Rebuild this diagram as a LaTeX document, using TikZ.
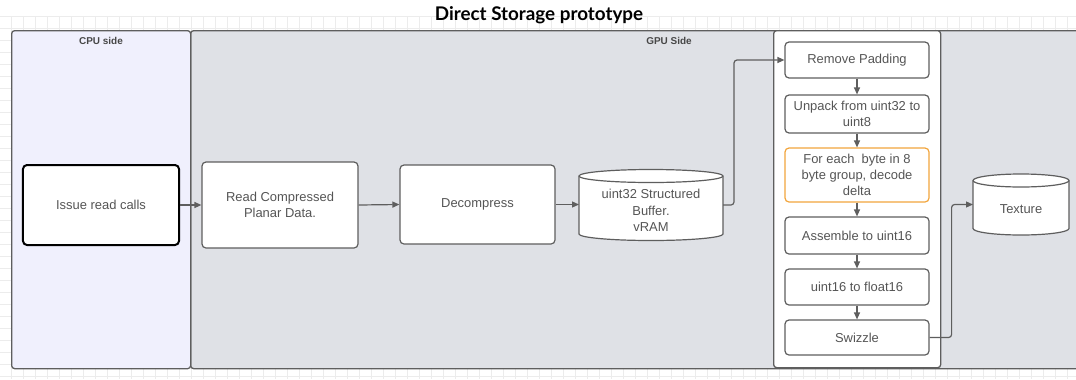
\documentclass[tikz,border=0pt]{standalone}
\usepackage{fontspec}
\setmainfont{Liberation Sans}
\newfontfamily\titlefont{Lato}
\usetikzlibrary{arrows.meta}
\definecolor{txt}{HTML}{555555}
\definecolor{edge}{HTML}{5E5E5E}
\definecolor{cpufill}{HTML}{F0F0FD}
\definecolor{gpufill}{HTML}{DFE1E6}
\definecolor{gridc}{HTML}{ECECEC}
\definecolor{orangeedge}{HTML}{F2A53C}
\begin{document}
\begin{tikzpicture}[x=1bp,y=-1bp,
  box/.style={draw=edge, line width=1.2bp, rounded corners=4bp, fill=white, text=txt,
    font=\fontsize{13}{16.4}\selectfont, align=center, inner sep=0pt},
  panel/.style={draw=edge, line width=1.3bp, rounded corners=3bp, inner sep=0pt, anchor=north west},
  plabel/.style={text=black!72, font=\bfseries\fontsize{10}{12}\selectfont, inner sep=0pt},
  cyltext/.style={text=txt, font=\fontsize{13}{16.4}\selectfont, align=center, inner sep=0pt},
  cylbox/.style={inner sep=0pt, outer sep=0pt},
  cyl/.style={draw=edge, line width=1.2bp, fill=white},
  arr/.style={draw=edge, line width=1.2bp, -{Triangle[length=7bp,width=6bp]}},
  gridline/.style={draw=gridc, line width=0.6bp}
]
\useasboundingbox (0,0) rectangle (1076,379);
% background grid
\foreach \i in {0,...,89} \draw[gridline] ({\i*12+11},16) -- ({\i*12+11},379);
\foreach \j in {0,...,30} \draw[gridline] (0,{16+\j*12}) -- (1076,{16+\j*12});
% title
\node[font=\titlefont\bfseries\fontsize{18.9}{20}\selectfont, inner sep=0pt] (title) at (539,15) {Direct Storage prototype};
% panels
\node[panel, fill=gpufill, minimum width=900bp, minimum height=338bp] (gpu) at (190,30) {};
\node[panel, fill=cpufill, minimum width=179bp, minimum height=338bp] (cpu) at (11,30) {};
\node[panel, fill=white, minimum width=167bp, minimum height=337bp] (col) at (773,30) {};
\node[plabel] (cpul) at (101,41) {CPU side};
\node[plabel] (gpul) at (669,41) {GPU Side};
% main row
\node[box, draw=black, line width=2bp, minimum width=156bp, minimum height=80bp] (issue) at (101,205) {Issue read calls};
\node[box, minimum width=156bp, minimum height=86bp] (readc) at (280,205) {Read Compressed\\Planar Data.};
\node[box, minimum width=155bp, minimum height=79bp] (decomp) at (477.5,204.5) {Decompress};
% buffer cylinder
\node[cylbox, minimum width=144bp, minimum height=71bp] (buf) at (651,205) {};
\path[cyl] ([yshift=-6.5bp]buf.north west) -- ([yshift=6.5bp]buf.south west)
  arc[start angle=180, end angle=360, x radius=72bp, y radius=6.5bp]
  -- ([yshift=-6.5bp]buf.north east)
  arc[start angle=0, end angle=180, x radius=72bp, y radius=6.5bp] -- cycle;
\draw[draw=edge, line width=1.2bp] ([yshift=-6.5bp]buf.north west)
  arc[start angle=180, end angle=360, x radius=72bp, y radius=6.5bp];
\node[cyltext] (buft) at (651,210.5) {uint32 Structured\\Buffer.\\vRAM};
% texture cylinder
\node[cylbox, minimum width=96bp, minimum height=61bp] (tex) at (1021,204.5) {};
\path[cyl] ([yshift=-6.5bp]tex.north west) -- ([yshift=6.5bp]tex.south west)
  arc[start angle=180, end angle=360, x radius=48bp, y radius=6.5bp]
  -- ([yshift=-6.5bp]tex.north east)
  arc[start angle=0, end angle=180, x radius=48bp, y radius=6.5bp] -- cycle;
\draw[draw=edge, line width=1.2bp] ([yshift=-6.5bp]tex.north west)
  arc[start angle=180, end angle=360, x radius=48bp, y radius=6.5bp];
\node[cyltext] (text) at (1021,209) {Texture};
% column
\node[box, minimum width=144bp, minimum height=36bp] (pad) at (857,60) {Remove Padding};
\node[box, minimum width=144bp, minimum height=38bp] (unpack) at (857,114) {Unpack from uint32 to\\uint8};
\node[box, draw=orangeedge, minimum width=144bp, minimum height=54bp] (each) at (857,175) {For each\ \ byte in 8\\byte group, decode\\delta};
\node[box, minimum width=144bp, minimum height=37bp] (asm) at (857,235.5) {Assemble to uint16};
\node[box, minimum width=144bp, minimum height=36bp] (flt) at (857,287) {uint16 to float16};
\node[box, minimum width=144bp, minimum height=35bp] (swz) at (857,337.5) {Swizzle};
% connectors
\draw[arr] (issue.east) -- (readc.west);
\draw[arr] (readc.east) -- (decomp.west);
\draw[arr] (decomp.east) -- (decomp.east -| buf.west);
\draw[arr, rounded corners=3bp] (buf.east) -- ++(11,0) |- (pad.west);
\draw[arr] (pad.south) -- (unpack.north);
\draw[arr] (unpack.south) -- (each.north);
\draw[arr] (each.south) -- (asm.north);
\draw[arr] (asm.south) -- (flt.north);
\draw[arr] (flt.south) -- (swz.north);
\draw[arr, rounded corners=3bp] (swz.east) -- ++(22,0) |- (tex.west);
\end{tikzpicture}
\end{document}
